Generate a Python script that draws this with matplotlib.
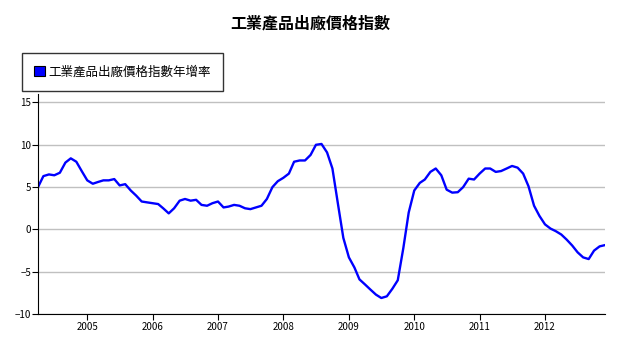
import numpy as np
import pandas as pd
import matplotlib
matplotlib.use("Agg")
import matplotlib.pyplot as plt
import matplotlib.dates as mdates
from matplotlib.patches import Patch

plt.rcParams['font.family'] = ['Noto Sans CJK TC', 'DejaVu Sans']

title = "工業產品出廠價格指數"
series_name = "工業產品出廠價格指數年增率"

# monthly values, Apr 2004 .. Dec 2012
start = "2004-04-01"
values = [
    5.0, 6.3, 6.5, 6.4, 6.7, 7.9, 8.4, 8.0, 6.9,              # 2004 Apr-Dec
    5.8, 5.4, 5.6, 5.8, 5.8, 5.95, 5.2, 5.35, 4.6, 4.0, 3.3, 3.2,  # 2005
    3.1, 3.0, 2.5, 1.9, 2.5, 3.4, 3.6, 3.4, 3.5, 2.9, 2.8, 3.1,    # 2006
    3.3, 2.6, 2.7, 2.9, 2.8, 2.5, 2.4, 2.6, 2.8, 3.6, 5.0, 5.7,    # 2007
    6.1, 6.6, 8.0, 8.15, 8.15, 8.8, 10.0, 10.1, 9.1, 7.2, 3.0, -1.0,  # 2008
    -3.3, -4.5, -5.9, -6.5, -7.1, -7.7, -8.1, -7.9, -7.0, -6.0, -2.2, 2.0,  # 2009
    4.6, 5.5, 5.9, 6.8, 7.2, 6.4, 4.7, 4.35, 4.4, 5.0, 6.0, 5.9,   # 2010
    6.6, 7.2, 7.2, 6.8, 6.9, 7.2, 7.5, 7.3, 6.6, 5.1, 2.8, 1.6,    # 2011
    0.6, 0.1, -0.2, -0.6, -1.2, -1.9, -2.7, -3.3, -3.5, -2.5, -2.0, -1.85,  # 2012
]
dates = pd.date_range(start, periods=len(values), freq="MS")
year_ticks = pd.to_datetime([f"{y}-01-01" for y in range(2005, 2013)])
y_ticks = [-10, -5, 0, 5, 10, 15]

fig = plt.figure(figsize=(6.21, 3.37), dpi=100)
ax = fig.add_axes([0.0612, 0.068, 0.913, 0.653])

ax.plot(dates, values, color="#0000ff", linewidth=1.7)

ax.set_xlim(dates[0], dates[-1])
ax.set_ylim(-10, 16)
ax.set_yticks(y_ticks)
ax.set_xticks(year_ticks)
ax.xaxis.set_major_formatter(mdates.DateFormatter("%Y"))
ax.grid(axis="y", color="#c0c0c0", linewidth=1)
ax.set_axisbelow(True)
for s in ["top", "right"]:
    ax.spines[s].set_visible(False)
ax.tick_params(axis="both", labelsize=7, length=4, width=0.8, pad=2)
ax.tick_params(axis="y", pad=1)

fig.suptitle(title, x=0.5, y=0.955, fontsize=11.5, fontweight="bold")

handle = Patch(facecolor="#0000ff", edgecolor="black", linewidth=0.8)
leg = fig.legend([handle], [series_name], loc="upper left",
                 bbox_to_anchor=(0.035, 0.843), fontsize=9,
                 frameon=True, fancybox=False, edgecolor="black",
                 handlelength=0.85, handleheight=0.85, handletextpad=0.25,
                 borderpad=1.0, borderaxespad=0)
leg.get_frame().set_linewidth(1)
fig.canvas.draw()
leg._legend_box.set_width  # keep default layout
leg.get_frame().set_width(leg.get_frame().get_width() - 6)

fig.savefig("out.png", dpi=100)
